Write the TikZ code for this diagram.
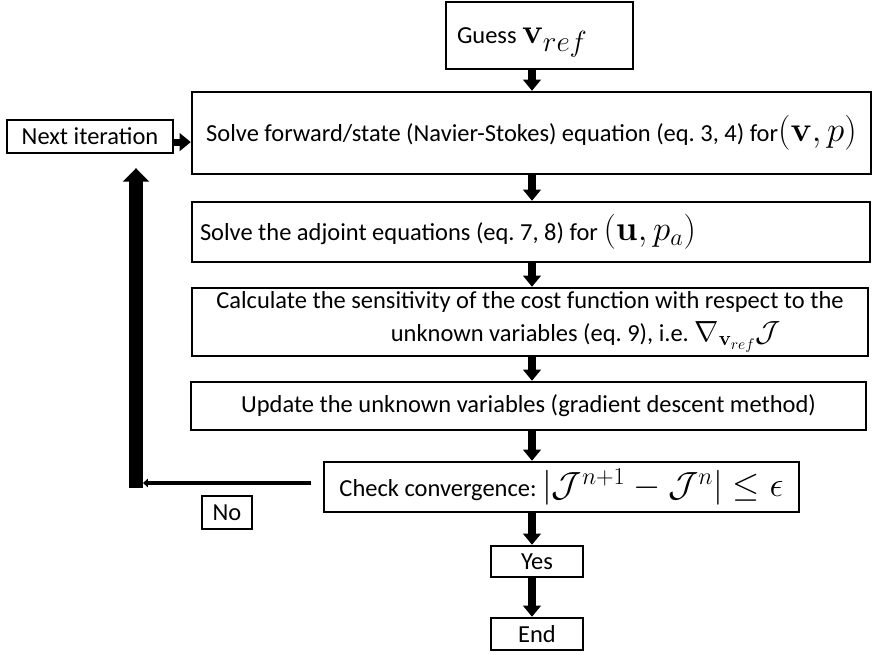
\documentclass[tikz,border=0pt]{standalone}
\usepackage{amsmath,amssymb}
\usepackage[no-math]{fontspec}
\setmainfont{Carlito}
\usepackage{tikz}
\usetikzlibrary{arrows.meta}
\newcommand{\bigmaths}[1]{{\fontsize{25pt}{29pt}\selectfont$#1$}}
\frenchspacing

\begin{document}
\begin{tikzpicture}[font=\fontsize{17.4pt}{20pt}\selectfont,line cap=round,
  stepbox/.style={draw,line width=1.7pt,inner sep=0pt},
  flow/.style={line width=5pt,line cap=butt,-{Triangle[width=12.5pt,length=8pt]}},
  backbar/.style={line width=9.3pt,line cap=butt,-{Triangle[width=18pt,length=9.5pt]}},
  noline/.style={line width=3.3pt,line cap=butt,-{Triangle[width=6pt,length=3.5pt]}}]
\path[fill=white,use as bounding box] (0,0) rectangle (21.8,16.375);
% main chain of steps
\node[stepbox,minimum height=1.675cm,text width=4.125cm,text depth=0pt,inner xsep=0.275cm,align=flush left] (guess) at (13.4875,15.4875) {Guess {\fontsize{29pt}{29pt}\selectfont$\mathbf{v}_{ref}$}};
\node[stepbox,minimum width=16.975cm,minimum height=2.05cm] (forward) at (13.2875,13.05) {Solve forward/state (Navier-Stokes) equation (eq. 3, 4) for\bigmaths{(\mathbf{v},p)}};
\node[stepbox,minimum height=1.5cm,text width=16.55cm,inner xsep=0.2cm,align=flush left] (adjoint) at (13.275,10.575) {Solve the adjoint equations (eq. 7, 8) for \bigmaths{(\mathbf{u},p_a)}};
\node[stepbox,minimum width=16.9cm,minimum height=1.7cm,align=center] (sensitivity) at (13.25,8.325) {Calculate the sensitivity of the cost function with respect to the\\[3pt]\hspace*{2.8cm}unknown variables (eq. 9), i.e. {\fontsize{22pt}{22pt}\selectfont$\nabla_{\mathbf{v}_{ref}}\mathcal{J}$}};
\node[stepbox,minimum width=16.875cm,minimum height=1.2cm] (update) at (13.2125,6.225) {Update the unknown variables (gradient descent method)};
\node[stepbox,minimum width=11.875cm,minimum height=1.25cm] (check) at (14.0375,4.2) {Check convergence: \bigmaths{|\mathcal{J}^{n+1}-\mathcal{J}^n|\le\epsilon}};
\node[stepbox,minimum width=2.3cm,minimum height=0.775cm] (yes) at (13.425,2.3375) {Yes};
\node[stepbox,minimum width=2.3cm,minimum height=0.8cm] (end) at (13.425,0.525) {End};
% loop back
\node[stepbox,minimum width=4.15cm,minimum height=0.825cm] (next) at (2.25,12.9625) {Next iteration};
\node[stepbox,minimum width=1.25cm,minimum height=0.825cm] (no) at (5.675,3.5625) {No};

\coordinate (spine) at (13.3,0);
\draw[flow] (guess.south -| spine) -- (forward.north -| spine);
\draw[flow] (forward.south -| spine) -- (adjoint.north -| spine);
\draw[flow] (adjoint.south -| spine) -- (sensitivity.north -| spine);
\draw[flow] (sensitivity.south -| spine) -- (update.north -| spine);
\draw[flow] (update.south -| spine) -- (check.north -| spine);
\draw[flow] (check.south -| spine) -- (yes.north -| spine);
\draw[flow] (yes.south -| spine) -- (end.north -| spine);
\draw[flow] ([yshift=-0.14cm]next.east) -- ([yshift=-0.14cm]next.east -| forward.west);

\path (next.south) ++(0,-0.35) coordinate (tipy);
\coordinate (noturn) at (3.4,4.175);
\coordinate (nohit) at (3.575,4.3);
\draw[backbar] (noturn) -- (noturn |- tipy);
\draw[noline] ([xshift=-0.3cm,yshift=0.1cm]check.west) -- (nohit);
\end{tikzpicture}
\end{document}
